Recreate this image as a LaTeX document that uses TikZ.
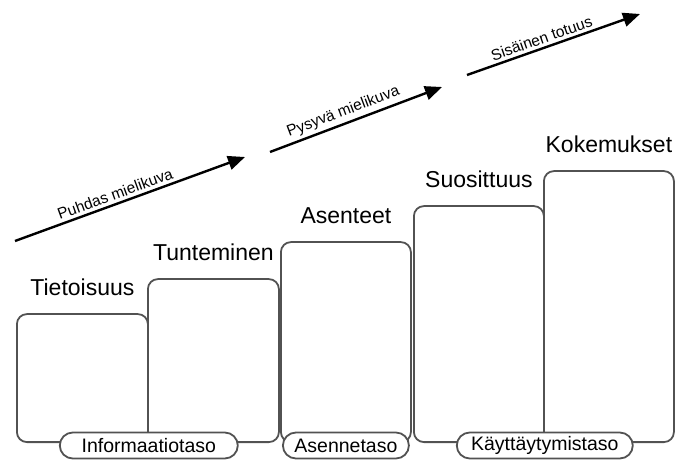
\documentclass[tikz,border=0pt]{standalone}
\usepackage{fontspec}
\setmainfont{Liberation Sans}
\usetikzlibrary{positioning,arrows.meta,shapes.misc}

\tikzset{
  stepbox/.style={draw=black!68, line width=1.8pt, rounded corners=10pt, anchor=south west, inner sep=0pt},
  levelpill/.style={draw=black!68, line width=1.8pt, fill=white, rounded rectangle, minimum height=26pt, inner sep=2pt, font=\fontsize{19.5}{22}\selectfont},
  toplabel/.style={font=\fontsize{23}{27}\selectfont, inner sep=0pt},
  trend/.style={line width=2.4pt, -{Triangle[length=17pt,width=14pt]}},
  trendlabel/.style={font=\fontsize{15.5}{18}\selectfont, sloped, above, pos=0.45, inner sep=3pt}
}

\begin{document}
\begin{tikzpicture}[x=1pt, y=1pt]
    \useasboundingbox (0,0) rectangle (675,461);

    % Steps, rising to the right
    \node[stepbox, minimum width=131pt, minimum height=128pt] (b1) at (16,18) {};
    \node[stepbox, minimum width=131pt, minimum height=163pt] (b2) at (147,18) {};
    \node[stepbox, minimum width=130pt, minimum height=200pt] (b3) at (280,18) {};
    \node[stepbox, minimum width=130pt, minimum height=236pt] (b4) at (413,18) {};
    \node[stepbox, minimum width=130pt, minimum height=271pt] (b5) at (543,18) {};

    % Step titles
    \node[toplabel, above=17pt of b1] (l1) {Tietoisuus};
    \node[toplabel, above=17pt of b2] (l2) {Tunteminen};
    \node[toplabel, above=17pt of b3] (l3) {Asenteet};
    \node[toplabel, above=17pt of b4] (l4) {Suosittuus};
    \node[toplabel, above=17pt of b5] (l5) {Kokemukset};

    % Levels along the bottom
    \node[levelpill, minimum width=182pt] (p1) at ([yshift=-2.5pt]b1.south east) {Informaatiotaso};
    \node[levelpill, minimum width=130pt] (p2) at ([yshift=-2.5pt]b3.south) {Asennetaso};
    \node[levelpill, minimum width=180pt] (p3) at ([yshift=-2.5pt]b4.south east) {Käyttäytymistaso};

    % Arrows
    \coordinate (a1s) at (15,220);
    \coordinate (a1e) at (245,304);
    \coordinate (a2s) at (270,309);
    \coordinate (a2e) at (442,374);
    \coordinate (a3s) at (467,386);
    \coordinate (a3e) at (640,447);
    \draw[trend] (a1s) -- node[trendlabel] {Puhdas mielikuva} (a1e);
    \draw[trend] (a2s) -- node[trendlabel] {Pysyvä mielikuva} (a2e);
    \draw[trend] (a3s) -- node[trendlabel] {Sisäinen totuus} (a3e);
\end{tikzpicture}
\end{document}
